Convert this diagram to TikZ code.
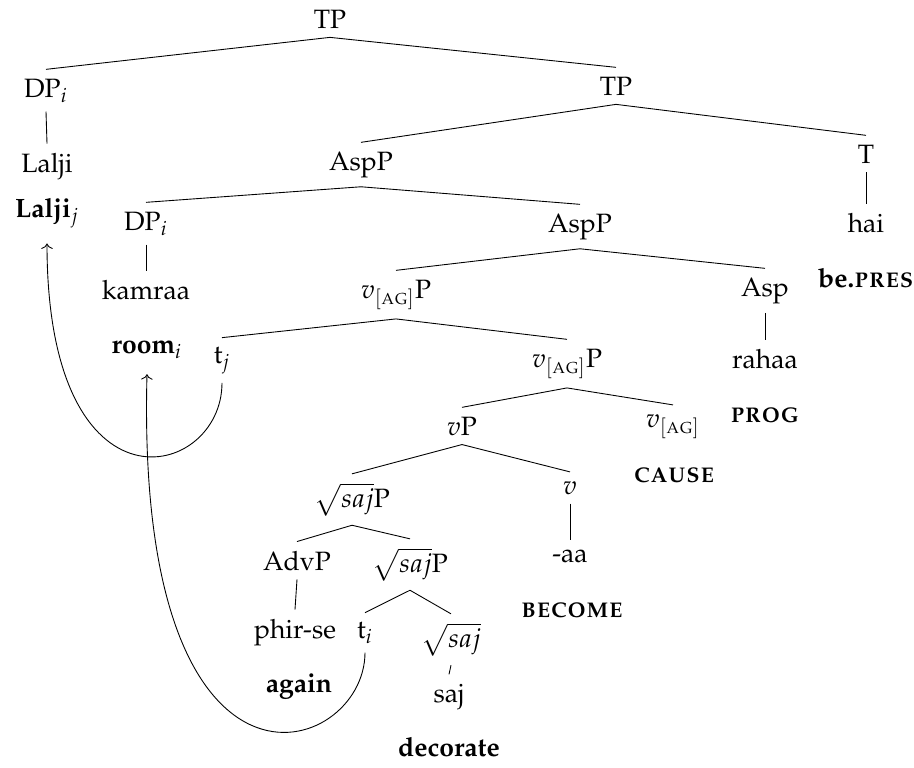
\documentclass[tikz,border=0pt]{standalone}
\usepackage[T1]{fontenc}
\usepackage{mathpazo}
\usepackage{amsmath}
\usepackage{tikz}
\usetikzlibrary{arrows.meta}

\newcommand{\vag}{v_{[\text{\textsc{ag}}]}}
\newcommand{\rootsaj}{\sqrt{saj}}

\tikzset{
  cat/.style={anchor=base, inner sep=4pt, font=\fontsize{12}{14}\selectfont},
  gloss/.style={anchor=base, inner xsep=4pt, inner ysep=7pt, font=\fontsize{12}{14}\selectfont\bfseries},
  movement/.style={->, line width=0.4pt}
}

\begin{document}
\begin{tikzpicture}[x=0.0159cm, y=-0.0159cm]
  \useasboundingbox (0,0) rectangle (914,767);

  % categories and words
  \node[cat] (tp)     at (330,28)  {TP};
  \node[cat] (dpi)    at (46,97)   {DP$_i$};
  \node[cat] (lalji)  at (47,172)  {Lalji};
  \node[cat] (tpb)    at (616,95)  {TP};
  \node[cat] (aspp)   at (361,170) {AspP};
  \node[cat] (t)      at (866,163) {T};
  \node[cat] (hai)    at (866,232) {hai};
  \node[cat] (dpk)    at (146,230) {DP$_i$};
  \node[cat] (kamraa) at (146,299) {kamraa};
  \node[cat] (asppb)  at (580,232) {AspP};
  \node[cat] (vagp)   at (396,298) {$\vag$P};
  \node[cat] (asp)    at (765,296) {Asp};
  \node[cat] (rahaa)  at (765,368) {rahaa};
  \node[cat] (tj)     at (222,363) {t$_j$};
  \node[cat] (vagpb)  at (567,367) {$\vag$P};
  \node[cat] (vp)     at (462,435) {$v$P};
  \node[cat] (vag)    at (673,427) {$\vag$};
  \node[cat] (sajp)   at (352,507) {$\rootsaj$P};
  \node[cat] (v)      at (570,494) {$v$};
  \node[cat] (aa)     at (570,562) {-aa};
  \node[cat] (advp)   at (297,570) {AdvP};
  \node[cat] (sajpb)  at (410,572) {$\rootsaj$P};
  \node[cat] (phirse) at (295,638) {phir-se};
  \node[cat] (ti)     at (365,638) {t$_i$};
  \node[cat] (saj)    at (451,647) {$\rootsaj$};
  \node[cat] (sajw)   at (449,702) {saj};

  % glosses
  \node[gloss] (laljig)   at (47,217)  {Lalji$_j$};
  \node[gloss] (room)     at (147,353) {room$_i$};
  \node[gloss] (pres)     at (866,287) {be.\textsc{pres}};
  \node[gloss] (prog)     at (765,422) {\textsc{prog}};
  \node[gloss] (cause)    at (674,482) {\textsc{cause}};
  \node[gloss] (become)   at (572,617) {\textsc{become}};
  \node[gloss] (again)    at (299,692) {again};
  \node[gloss] (decorate) at (449,756) {decorate};

  \foreach \p/\c in {tp/dpi, tp/tpb, dpi/lalji, tpb/aspp, tpb/t, t/hai,
                     aspp/dpk, aspp/asppb, dpk/kamraa, asppb/vagp, asppb/asp,
                     asp/rahaa, vagp/tj, vagp/vagpb, vagpb/vp, vagpb/vag,
                     vp/sajp, vp/v, v/aa, sajp/advp, sajp/sajpb, advp/phirse,
                     sajpb/ti, sajpb/saj, saj/sajw}
    \draw (\p.south) -- (\c.north);

  % movement
  \draw[movement] (tj.south) .. controls +(0,97) and +(0,280) .. (laljig.south);
  \draw[movement] (ti.south) .. controls +(0,105) and +(-12,460) .. (room.south);
\end{tikzpicture}
\end{document}
